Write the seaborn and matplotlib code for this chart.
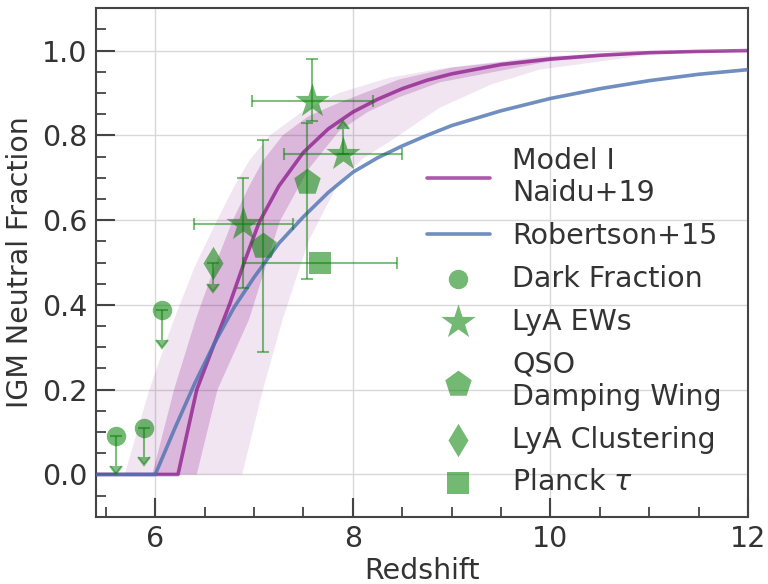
import numpy as np
import pandas as pd
import matplotlib
matplotlib.use("Agg")
import matplotlib.pyplot as plt
from matplotlib.ticker import MultipleLocator
import seaborn as sns

# ---------------- data ----------------
model_z = [5.4, 6.23, 6.42, 6.6, 6.75, 6.9, 7.05, 7.25, 7.5, 7.75, 8.0, 8.25, 8.5, 8.75,
           9.0, 9.5, 10.0, 10.5, 11.0, 11.5, 12.0]
model_xhi = [0.0, 0.0, 0.2, 0.31, 0.40, 0.50, 0.594, 0.68, 0.76, 0.815, 0.855, 0.885, 0.91, 0.93,
             0.945, 0.967, 0.98, 0.989, 0.995, 0.998, 1.0]

rob_z = [5.4, 6.0, 6.2, 6.4, 6.6, 6.8, 7.0, 7.25, 7.5, 7.75, 8.0, 8.25, 8.5, 8.75,
         9.0, 9.5, 10.0, 10.5, 11.0, 11.5, 12.0]
rob_xhi = [0.0, 0.0, 0.11, 0.215, 0.31, 0.395, 0.465, 0.545, 0.608, 0.665, 0.713, 0.747, 0.775, 0.80,
           0.823, 0.858, 0.887, 0.91, 0.929, 0.944, 0.955]

# 95% band edges
band95_hi_z = [5.69, 5.94, 6.19, 6.4, 6.62, 6.8, 6.95, 7.16, 7.5, 7.86, 8.37, 8.88, 9.89, 11.0, 12.0]
band95_hi_v = [0.0, 0.2, 0.366, 0.49, 0.597, 0.68, 0.74, 0.80, 0.858, 0.90, 0.936, 0.957, 0.986, 0.997, 1.0]
band95_lo_z = [6.88, 7.09, 7.29, 7.55, 7.86, 8.1, 8.37, 8.88, 9.4, 9.89, 11.0, 12.0]
band95_lo_v = [0.0, 0.2, 0.366, 0.55, 0.69, 0.745, 0.785, 0.865, 0.92, 0.955, 0.99, 1.0]
# 68% band edges
band68_hi_z = [5.97, 6.19, 6.41, 6.6, 6.78, 6.95, 7.09, 7.29, 7.55, 7.86, 8.47, 9.0, 10.0, 11.0, 12.0]
band68_hi_v = [0.0, 0.2, 0.366, 0.49, 0.597, 0.68, 0.74, 0.80, 0.845, 0.877, 0.932, 0.96, 0.985, 0.996, 1.0]
band68_lo_z = [6.42, 6.63, 6.95, 7.26, 7.55, 7.86, 8.15, 8.47, 8.88, 10.0, 11.0, 12.0]
band68_lo_v = [0.0, 0.2, 0.366, 0.597, 0.72, 0.81, 0.855, 0.89, 0.925, 0.975, 0.993, 1.0]

# observations
dark_z = [5.6, 5.89, 6.07]
dark_v = [0.09, 0.11, 0.387]
dark_lim = [0.07, 0.07, 0.07]

ew_z = [6.89, 7.59, 7.9]
ew_v = [0.59, 0.88, 0.755]
ew_xerr = [0.5, 0.61, 0.6]
ew_yerr_lo = [0.15, 0.045]
ew_yerr_hi = [0.11, 0.10]
ew_lolim = [0.06]

qso_z = [7.54, 7.09]
qso_v = [0.69, 0.54]
qso_yerr_lo = [0.23, 0.25]
qso_yerr_hi = [0.14, 0.25]

clus_z = [6.58]
clus_v = [0.50]
clus_lim = [0.05]

planck_z = [7.67]
planck_v = [0.50]
planck_xerr = [0.78]

# ---------------- style ----------------
sns.set_theme(style="ticks")
plt.rcParams["font.family"] = ["DejaVu Sans"]
FS = 20.5
TXT = "#333333"

fig = plt.figure(figsize=(7.68, 5.84), dpi=100)
ax = fig.add_axes([0.125, 0.115, 0.849, 0.871])

purple = "#800080"
green = "green"
blue = "#4c72b0"

# bands
ax.fill(band95_hi_z + band95_lo_z[::-1], band95_hi_v + band95_lo_v[::-1],
        color=purple, alpha=0.1, lw=0, zorder=1)
ax.fill(band68_hi_z + band68_lo_z[::-1], band68_hi_v + band68_lo_v[::-1],
        color=purple, alpha=0.2, lw=0, zorder=1)

model_df = pd.DataFrame({"z": model_z, "x": model_xhi})
rob_df = pd.DataFrame({"z": rob_z, "x": rob_xhi})
sns.lineplot(data=model_df, x="z", y="x", ax=ax, color=purple, alpha=0.65, lw=2.6,
             label="Model I\nNaidu+19", zorder=3)
sns.lineplot(data=rob_df, x="z", y="x", ax=ax, color=blue, alpha=0.8, lw=2.6,
             label="Robertson+15", zorder=3)

eb_kw = dict(fmt="none", ecolor=green, alpha=0.5, elinewidth=1.5, capsize=4, capthick=1.5, zorder=4)


def ebar(*args, **kw):
    cont = ax.errorbar(*args, **kw, **eb_kw)
    for cap in cont[1]:
        cap.set_markeredgecolor(green)
        cap.set_markerfacecolor(green)
        cap.set_color(green)
    return cont


# error bars
ebar(dark_z, dark_v, yerr=dark_lim, uplims=True)
ebar(ew_z[:2], ew_v[:2], xerr=ew_xerr[:2], yerr=[ew_yerr_lo, ew_yerr_hi])
ebar(ew_z[2:], ew_v[2:], xerr=ew_xerr[2:])
ebar(ew_z[2:], ew_v[2:], yerr=ew_lolim, lolims=True)
ebar(qso_z, qso_v, yerr=[qso_yerr_lo, qso_yerr_hi])
ebar(clus_z, clus_v, yerr=clus_lim, uplims=True)
ebar(planck_z, planck_v, xerr=planck_xerr)

mk_kw = dict(ax=ax, color=green, alpha=0.55, linewidth=0, zorder=5)
sns.scatterplot(x=dark_z, y=dark_v, marker="o", s=14**2, label="Dark Fraction", **mk_kw)
sns.scatterplot(x=ew_z, y=ew_v, marker="*", s=26**2, label="LyA EWs", **mk_kw)
sns.scatterplot(x=qso_z, y=qso_v, marker="p", s=20**2, label="QSO\nDamping Wing", **mk_kw)
sns.scatterplot(x=clus_z, y=clus_v, marker="d", s=17**2, label="LyA Clustering", **mk_kw)
sns.scatterplot(x=planck_z, y=planck_v, marker="s", s=16**2, label=r"Planck $\tau$", **mk_kw)

# axes
ax.set_xlim(5.4, 12)
ax.set_ylim(-0.1, 1.1)
ax.xaxis.set_major_locator(MultipleLocator(2))
ax.xaxis.set_minor_locator(MultipleLocator(0.5))
ax.yaxis.set_major_locator(MultipleLocator(0.2))
ax.yaxis.set_minor_locator(MultipleLocator(0.05))
ax.tick_params(which="major", direction="in", length=14, width=1.5, color="#444444",
               labelsize=FS, labelcolor=TXT, pad=6)
ax.tick_params(which="minor", direction="in", length=7.5, width=1.3, color="#444444")
ax.grid(True, which="major", color="#d8d8d8", lw=1.0, zorder=0)
ax.set_axisbelow(True)
for sp in ax.spines.values():
    sp.set_visible(True)
    sp.set_color("#444444")
    sp.set_linewidth(1.5)

ax.set_xlabel("Redshift", fontsize=FS, color=TXT, labelpad=3)
ax.set_ylabel("IGM Neutral Fraction", fontsize=FS, color=TXT, labelpad=6)

leg = ax.legend(loc="upper left", bbox_to_anchor=(0.49, 0.75), frameon=False,
                fontsize=FS, handlelength=2.2, labelspacing=0.52, handletextpad=0.8,
                borderaxespad=0)
for t in leg.get_texts():
    t.set_color(TXT)

fig.savefig("out.png", dpi=100)
